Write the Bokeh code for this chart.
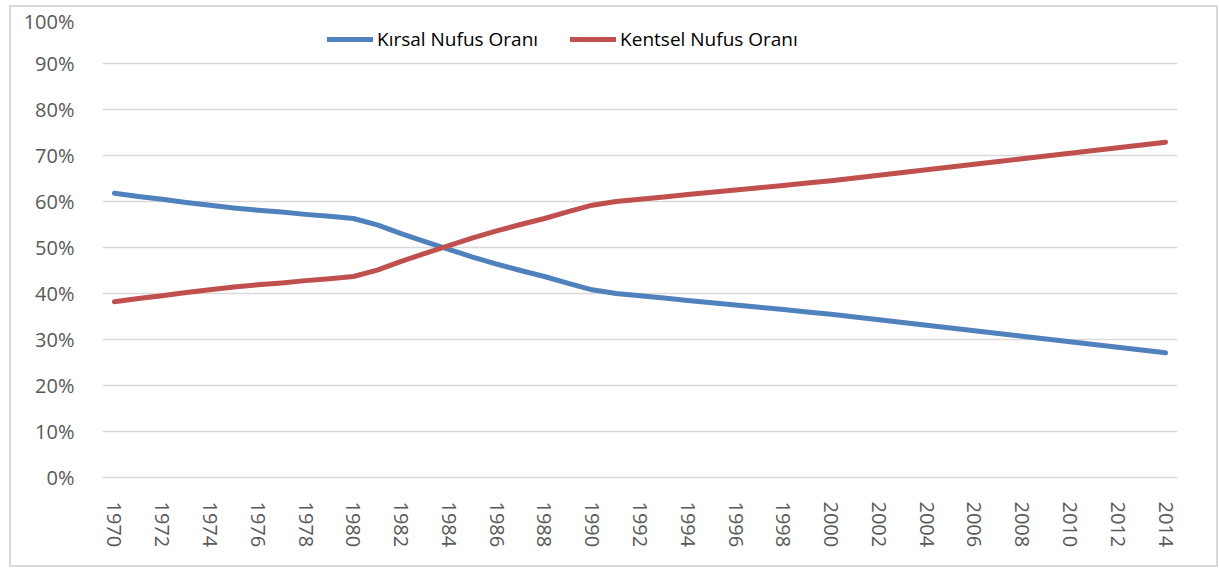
import math
from bokeh.plotting import figure
from bokeh.models import FixedTicker, PrintfTickFormatter, Legend, LegendItem, Range1d, ColumnDataSource
from bokeh.embed import file_html
from bokeh.resources import INLINE

years = list(range(1970, 2015))
kirsal = [61.8, 61.1, 60.5, 59.8, 59.2, 58.6, 58.1, 57.7, 57.2, 56.8,
          56.3, 54.9, 53.0, 51.3, 49.6, 47.9, 46.4, 45.0, 43.7, 42.2,
          40.8, 40.0, 39.5, 39.0, 38.5, 38.0, 37.5, 37.0, 36.5, 36.0,
          35.5, 34.9, 34.3, 33.7, 33.1, 32.5, 31.9, 31.3, 30.7, 30.1,
          29.5, 28.9, 28.3, 27.7, 27.1]
kentsel = [38.2, 38.9, 39.5, 40.2, 40.8, 41.4, 41.9, 42.3, 42.8, 43.2,
           43.7, 45.1, 47.0, 48.7, 50.4, 52.1, 53.6, 55.0, 56.3, 57.8,
           59.2, 60.0, 60.5, 61.0, 61.5, 62.0, 62.5, 63.0, 63.5, 64.0,
           64.5, 65.1, 65.7, 66.3, 66.9, 67.5, 68.1, 68.7, 69.3, 69.9,
           70.5, 71.1, 71.7, 72.3, 72.9]
tick_years = years[::2]
y_ticks = list(range(0, 101, 10))
series_names = ["Kırsal Nufus Oranı", "Kentsel Nufus Oranı"]
series_colors = ["#4F81BD", "#C0504D"]

FONT = "Open Sans"

p = figure(width=1209, height=562, output_backend="svg", toolbar_location=None,
           x_range=Range1d(years[0] - 0.5, years[-1] + 0.5),
           y_range=Range1d(0, 100),
           min_border_left=91, min_border_right=43, min_border_top=10, min_border_bottom=92,
           styles={"border": "2px solid #d9d9d9", "box-sizing": "border-box",
                   "margin-left": "9px", "margin-top": "5px"})
p.outline_line_color = None
p.background_fill_color = "white"
p.border_fill_color = "white"

src = ColumnDataSource(dict(year=years, kirsal=kirsal, kentsel=kentsel))
r1 = p.line("year", "kirsal", source=src, line_color=series_colors[0], line_width=5, line_cap="round", line_join="round")
r2 = p.line("year", "kentsel", source=src, line_color=series_colors[1], line_width=5, line_cap="round", line_join="round")

p.xgrid.grid_line_color = None
p.ygrid.grid_line_color = "#d9d9d9"
p.ygrid.grid_line_width = 1.5
p.ygrid.ticker = FixedTicker(ticks=y_ticks)

p.yaxis.ticker = FixedTicker(ticks=y_ticks)
p.yaxis.formatter = PrintfTickFormatter(format="%d%%")
p.yaxis.axis_line_color = None
p.yaxis.major_tick_line_color = None
p.yaxis.minor_tick_line_color = None
p.yaxis.major_label_text_font = FONT
p.yaxis.major_label_text_font_size = "20px"
p.yaxis.major_label_text_color = "#595959"
p.yaxis.major_label_standoff = 22

p.xaxis.ticker = FixedTicker(ticks=tick_years)
p.xaxis.axis_line_color = "#d9d9d9"
p.xaxis.axis_line_width = 1.5
p.xaxis.major_tick_line_color = None
p.xaxis.minor_tick_line_color = None
p.xaxis.major_label_orientation = -math.pi / 2
p.xaxis.major_label_text_font = FONT
p.xaxis.major_label_text_font_size = "20px"
p.xaxis.major_label_text_color = "#595959"
p.xaxis.major_label_standoff = 18

legend = Legend(items=[LegendItem(label=series_names[0], renderers=[r1]),
                       LegendItem(label=series_names[1], renderers=[r2])],
                orientation="horizontal", location=(225, 425),
                border_line_color=None, background_fill_alpha=0,
                padding=0, margin=0, spacing=32, glyph_width=46, glyph_height=26,
                label_height=26, label_standoff=4,
                label_text_font=FONT, label_text_font_size="19px", label_text_color="#000000")
p.add_layout(legend, "center")

open("out.html", "w").write(file_html(p, INLINE))
